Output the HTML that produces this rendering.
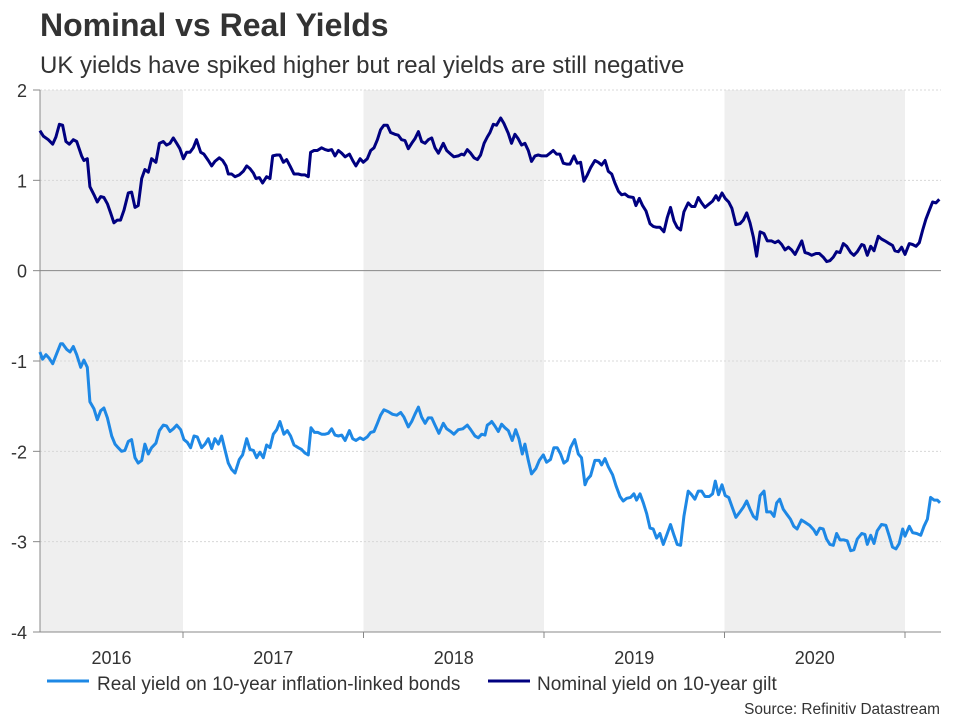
<!DOCTYPE html>
<html><head><meta charset="utf-8"><style>
body{margin:0;background:#fff;font-family:"Liberation Sans",Arial,sans-serif;}
svg text{font-family:"Liberation Sans",Arial,sans-serif;}
</style></head><body>
<svg id="chart" width="960" height="720" xmlns="http://www.w3.org/2000/svg">
<text x="40" y="36" font-size="32" font-weight="bold" fill="#333">Nominal vs Real Yields</text>
<text x="40" y="73" font-size="24" fill="#333">UK yields have spiked higher but real yields are still negative</text>
<g id="bands"></g>
<g id="grid"></g>
<g id="axes"></g>
<g id="series"></g>
<g>
<line x1="47" y1="681" x2="89" y2="681" stroke="#1e88e5" stroke-width="3"/>
<text x="97" y="690" font-size="19" fill="#333">Real yield on 10-year inflation-linked bonds</text>
<line x1="488" y1="681" x2="530" y2="681" stroke="#000080" stroke-width="3"/>
<text x="537" y="690" font-size="19" fill="#333">Nominal yield on 10-year gilt</text>
</g>
<text x="940" y="714" font-size="15.4" fill="#333" text-anchor="end">Source: Refinitiv Datastream</text>
</svg>
<script>
const yTicks=[2,1,0,-1,-2,-3,-4];
const yearLabels=["2016","2017","2018","2019","2020"];
const bandYears=[2016,2017,2018,2019,2020,2021];
const nomDates=[2016.207,2016.226,2016.254,2016.278,2016.296,2016.315,2016.333,2016.351,2016.370,2016.392,2016.411,2016.438,2016.451,2016.470,2016.484,2016.507,2016.525,2016.544,2016.562,2016.581,2016.599,2016.617,2016.636,2016.654,2016.673,2016.697,2016.715,2016.734,2016.752,2016.771,2016.789,2016.808,2016.826,2016.850,2016.869,2016.891,2016.909,2016.928,2016.946,2016.965,2016.983,2017.002,2017.020,2017.039,2017.057,2017.075,2017.098,2017.116,2017.140,2017.159,2017.177,2017.201,2017.220,2017.238,2017.251,2017.269,2017.288,2017.312,2017.334,2017.353,2017.371,2017.390,2017.404,2017.423,2017.441,2017.463,2017.482,2017.497,2017.519,2017.537,2017.556,2017.574,2017.593,2017.615,2017.639,2017.657,2017.676,2017.694,2017.707,2017.726,2017.744,2017.768,2017.787,2017.805,2017.824,2017.842,2017.861,2017.879,2017.898,2017.922,2017.940,2017.958,2017.981,2017.999,2018.021,2018.040,2018.058,2018.077,2018.095,2018.113,2018.132,2018.150,2018.174,2018.193,2018.211,2018.230,2018.248,2018.267,2018.285,2018.304,2018.322,2018.341,2018.359,2018.378,2018.396,2018.415,2018.442,2018.461,2018.483,2018.501,2018.525,2018.544,2018.557,2018.575,2018.594,2018.612,2018.631,2018.649,2018.668,2018.686,2018.701,2018.719,2018.737,2018.760,2018.778,2018.802,2018.820,2018.839,2018.857,2018.876,2018.894,2018.913,2018.931,2018.950,2018.968,2018.987,2019.014,2019.033,2019.051,2019.070,2019.088,2019.107,2019.125,2019.144,2019.166,2019.184,2019.203,2019.221,2019.240,2019.258,2019.282,2019.301,2019.319,2019.338,2019.356,2019.375,2019.393,2019.412,2019.430,2019.448,2019.467,2019.495,2019.509,2019.528,2019.546,2019.565,2019.587,2019.605,2019.624,2019.642,2019.664,2019.683,2019.701,2019.720,2019.738,2019.757,2019.775,2019.799,2019.818,2019.836,2019.855,2019.873,2019.892,2019.916,2019.934,2019.953,2019.967,2019.986,2020.004,2020.023,2020.041,2020.063,2020.086,2020.104,2020.123,2020.141,2020.160,2020.178,2020.197,2020.219,2020.237,2020.261,2020.280,2020.298,2020.317,2020.335,2020.354,2020.372,2020.391,2020.409,2020.428,2020.446,2020.464,2020.483,2020.507,2020.525,2020.547,2020.566,2020.584,2020.603,2020.621,2020.640,2020.658,2020.677,2020.699,2020.717,2020.736,2020.760,2020.773,2020.791,2020.810,2020.828,2020.852,2020.870,2020.889,2020.913,2020.931,2020.944,2020.963,2020.981,2021.000,2021.024,2021.042,2021.061,2021.079,2021.098,2021.116,2021.135,2021.153,2021.172,2021.190];
const nomValues=[1.55,1.49,1.45,1.40,1.48,1.62,1.61,1.43,1.40,1.45,1.43,1.27,1.22,1.24,0.93,0.84,0.76,0.82,0.81,0.74,0.64,0.53,0.56,0.56,0.67,0.86,0.87,0.70,0.72,1.02,1.12,1.09,1.24,1.20,1.41,1.43,1.39,1.41,1.47,1.41,1.35,1.24,1.31,1.31,1.36,1.45,1.31,1.29,1.22,1.16,1.21,1.25,1.22,1.16,1.07,1.07,1.04,1.06,1.10,1.16,1.13,1.08,1.02,1.03,0.97,1.04,1.02,1.27,1.28,1.28,1.20,1.23,1.16,1.07,1.07,1.06,1.06,1.04,1.31,1.33,1.33,1.36,1.34,1.33,1.34,1.27,1.33,1.30,1.26,1.29,1.22,1.16,1.24,1.20,1.24,1.33,1.36,1.45,1.56,1.61,1.61,1.53,1.51,1.50,1.45,1.44,1.35,1.41,1.46,1.54,1.43,1.41,1.45,1.47,1.36,1.30,1.41,1.33,1.29,1.26,1.27,1.29,1.28,1.34,1.30,1.25,1.23,1.28,1.41,1.48,1.53,1.62,1.61,1.69,1.63,1.52,1.41,1.51,1.46,1.39,1.41,1.33,1.21,1.27,1.28,1.27,1.27,1.30,1.33,1.29,1.29,1.19,1.18,1.18,1.27,1.19,1.20,0.99,1.06,1.14,1.22,1.20,1.17,1.22,1.10,1.07,0.97,0.88,0.84,0.85,0.82,0.81,0.72,0.80,0.72,0.66,0.52,0.49,0.48,0.48,0.43,0.59,0.70,0.55,0.48,0.45,0.65,0.75,0.71,0.71,0.81,0.75,0.70,0.74,0.77,0.83,0.78,0.86,0.80,0.76,0.69,0.51,0.52,0.56,0.64,0.53,0.37,0.16,0.43,0.41,0.33,0.33,0.31,0.33,0.29,0.23,0.26,0.23,0.18,0.25,0.33,0.20,0.19,0.17,0.19,0.19,0.15,0.10,0.11,0.15,0.21,0.20,0.30,0.27,0.20,0.17,0.21,0.29,0.28,0.17,0.27,0.22,0.38,0.35,0.33,0.30,0.28,0.22,0.21,0.26,0.18,0.30,0.29,0.27,0.31,0.45,0.57,0.67,0.76,0.75,0.79];
const realDates=[2016.207,2016.222,2016.241,2016.259,2016.278,2016.300,2016.322,2016.333,2016.355,2016.374,2016.392,2016.411,2016.433,2016.451,2016.470,2016.484,2016.507,2016.525,2016.544,2016.562,2016.581,2016.605,2016.623,2016.641,2016.660,2016.678,2016.697,2016.715,2016.734,2016.752,2016.771,2016.789,2016.808,2016.826,2016.850,2016.869,2016.891,2016.909,2016.928,2016.946,2016.965,2016.987,2017.005,2017.024,2017.042,2017.061,2017.079,2017.103,2017.122,2017.140,2017.159,2017.177,2017.196,2017.214,2017.232,2017.251,2017.269,2017.288,2017.312,2017.330,2017.353,2017.371,2017.390,2017.408,2017.426,2017.445,2017.463,2017.482,2017.500,2017.519,2017.537,2017.559,2017.578,2017.596,2017.615,2017.639,2017.657,2017.676,2017.694,2017.709,2017.728,2017.746,2017.768,2017.787,2017.805,2017.824,2017.842,2017.861,2017.879,2017.898,2017.922,2017.940,2017.958,2017.981,2017.999,2018.021,2018.040,2018.058,2018.077,2018.095,2018.113,2018.137,2018.161,2018.184,2018.206,2018.224,2018.248,2018.267,2018.285,2018.304,2018.322,2018.341,2018.359,2018.378,2018.396,2018.418,2018.442,2018.461,2018.483,2018.501,2018.525,2018.550,2018.575,2018.594,2018.618,2018.636,2018.655,2018.673,2018.686,2018.701,2018.710,2018.728,2018.747,2018.765,2018.784,2018.802,2018.824,2018.843,2018.861,2018.880,2018.894,2018.913,2018.931,2018.955,2018.974,2018.996,2019.014,2019.036,2019.055,2019.073,2019.092,2019.110,2019.129,2019.147,2019.170,2019.190,2019.208,2019.227,2019.240,2019.258,2019.282,2019.306,2019.319,2019.338,2019.356,2019.380,2019.399,2019.421,2019.439,2019.458,2019.480,2019.498,2019.513,2019.532,2019.550,2019.569,2019.587,2019.605,2019.624,2019.642,2019.661,2019.683,2019.701,2019.720,2019.738,2019.757,2019.775,2019.799,2019.818,2019.836,2019.855,2019.873,2019.892,2019.916,2019.934,2019.949,2019.967,2019.986,2020.004,2020.023,2020.041,2020.063,2020.086,2020.104,2020.123,2020.141,2020.160,2020.178,2020.197,2020.219,2020.234,2020.256,2020.274,2020.289,2020.306,2020.325,2020.343,2020.365,2020.384,2020.402,2020.426,2020.450,2020.472,2020.495,2020.509,2020.528,2020.547,2020.565,2020.584,2020.603,2020.621,2020.640,2020.662,2020.680,2020.699,2020.717,2020.736,2020.760,2020.778,2020.791,2020.810,2020.828,2020.846,2020.870,2020.894,2020.913,2020.931,2020.950,2020.968,2020.987,2021.000,2021.024,2021.042,2021.065,2021.087,2021.105,2021.124,2021.142,2021.161,2021.179,2021.194];
const realValues=[-0.90,-0.98,-0.93,-0.97,-1.03,-0.92,-0.81,-0.81,-0.87,-0.90,-0.84,-0.93,-1.07,-0.99,-1.07,-1.45,-1.53,-1.65,-1.55,-1.52,-1.63,-1.83,-1.92,-1.96,-2.00,-1.99,-1.89,-1.87,-2.07,-2.13,-2.10,-1.92,-2.03,-1.96,-1.91,-1.77,-1.71,-1.72,-1.78,-1.75,-1.71,-1.76,-1.87,-1.90,-1.96,-1.83,-1.84,-1.96,-1.92,-1.86,-1.97,-1.86,-1.92,-1.83,-1.98,-2.13,-2.20,-2.24,-2.09,-2.04,-1.86,-1.98,-1.99,-2.07,-2.01,-2.07,-1.93,-1.96,-1.81,-1.76,-1.67,-1.81,-1.77,-1.83,-1.93,-1.96,-1.98,-2.02,-2.04,-1.74,-1.79,-1.79,-1.81,-1.81,-1.80,-1.75,-1.82,-1.83,-1.82,-1.88,-1.77,-1.86,-1.88,-1.85,-1.87,-1.84,-1.79,-1.78,-1.69,-1.60,-1.54,-1.56,-1.59,-1.60,-1.57,-1.62,-1.73,-1.67,-1.59,-1.51,-1.62,-1.69,-1.63,-1.63,-1.71,-1.80,-1.69,-1.75,-1.78,-1.81,-1.76,-1.75,-1.71,-1.76,-1.83,-1.85,-1.81,-1.82,-1.71,-1.69,-1.67,-1.72,-1.78,-1.70,-1.74,-1.77,-1.88,-1.76,-1.86,-2.03,-1.92,-2.10,-2.25,-2.19,-2.10,-2.04,-2.12,-2.09,-1.96,-1.96,-2.03,-2.13,-2.10,-1.96,-1.87,-2.03,-2.07,-2.37,-2.31,-2.27,-2.10,-2.10,-2.15,-2.08,-2.17,-2.26,-2.38,-2.50,-2.55,-2.52,-2.51,-2.47,-2.54,-2.47,-2.57,-2.69,-2.85,-2.86,-2.96,-2.91,-3.03,-2.91,-2.81,-2.93,-3.03,-3.04,-2.72,-2.44,-2.48,-2.53,-2.44,-2.44,-2.50,-2.50,-2.47,-2.33,-2.48,-2.37,-2.49,-2.51,-2.61,-2.73,-2.67,-2.62,-2.55,-2.64,-2.72,-2.75,-2.49,-2.44,-2.67,-2.67,-2.72,-2.57,-2.53,-2.64,-2.69,-2.75,-2.83,-2.86,-2.76,-2.79,-2.82,-2.87,-2.92,-2.85,-2.86,-2.97,-3.03,-3.04,-2.91,-2.98,-2.98,-2.99,-3.10,-3.09,-2.97,-2.91,-2.92,-3.03,-2.93,-3.02,-2.88,-2.81,-2.82,-2.94,-3.06,-3.08,-3.02,-2.86,-2.94,-2.83,-2.90,-2.91,-2.93,-2.83,-2.75,-2.51,-2.54,-2.54,-2.57];

const NS='http://www.w3.org/2000/svg';
const L=40,R=941,T=90,B=632;
function xs(yr){return 183+(yr-2017)*180.5;}
function ys(v){return T+(2-v)*(B-T)/6;}
function mk(tag,attrs,parent){const e=document.createElementNS(NS,tag);for(const k in attrs)e.setAttribute(k,attrs[k]);parent.appendChild(e);return e;}
const bands=document.getElementById('bands'),grid=document.getElementById('grid'),axes=document.getElementById('axes'),series=document.getElementById('series');
for(let i=0;i<bandYears.length;i++){
  if(i%2===0){
    const x0=Math.max(L,xs(bandYears[i])),x1=Math.min(R,xs(bandYears[i]+1));
    const r=mk('rect',{x:x0,y:T,width:x1-x0,height:B-T,fill:'#efefef'},bands);
    
    
  }
}
yTicks.forEach(v=>{
  const y=ys(v);
  if(v!==0&&v!==-4){
    const g=mk('line',{x1:L,x2:R,y1:y,y2:y,stroke:'#d8d8d8','stroke-dasharray':'2,2','stroke-width':1},grid);
    
    
  }
  const t=mk('line',{x1:33,x2:L,y1:y,y2:y,stroke:'#888','stroke-width':1},axes);
  
  
  const lb=mk('text',{x:27,y:y+7,'font-size':18,fill:'#333','text-anchor':'end'},axes);
  lb.textContent=v;
  
  
});
const zl=mk('line',{x1:L,x2:R,y1:ys(0),y2:ys(0),stroke:'#888','stroke-width':1},axes);


const ya=mk('line',{x1:L,x2:L,y1:T,y2:B,stroke:'#888','stroke-width':1},axes);


const xa=mk('line',{x1:L,x2:R,y1:B,y2:B,stroke:'#888','stroke-width':1},axes);


bandYears.slice(1).forEach(yr=>{
  const x=xs(yr);
  const t=mk('line',{x1:x,x2:x,y1:B,y2:B+6,stroke:'#888','stroke-width':1},axes);
  
  
});
yearLabels.forEach((lab)=>{
  const x0=Math.max(L,xs(+lab)),x1=Math.min(R,xs(+lab+1));
  const t=mk('text',{x:(x0+x1)/2,y:664,'font-size':18,fill:'#333','text-anchor':'middle'},axes);
  t.textContent=lab;
  
  
});
function path(dates,vals){return dates.map((d,i)=>(i?'L':'M')+xs(d).toFixed(1)+','+ys(vals[i]).toFixed(1)).join('');}
const pr=mk('path',{d:path(realDates,realValues),fill:'none',stroke:'#1e88e5','stroke-width':3,'stroke-linejoin':'round'},series);


const pn=mk('path',{d:path(nomDates,nomValues),fill:'none',stroke:'#000080','stroke-width':3,'stroke-linejoin':'round'},series);


</script>
</body></html>
